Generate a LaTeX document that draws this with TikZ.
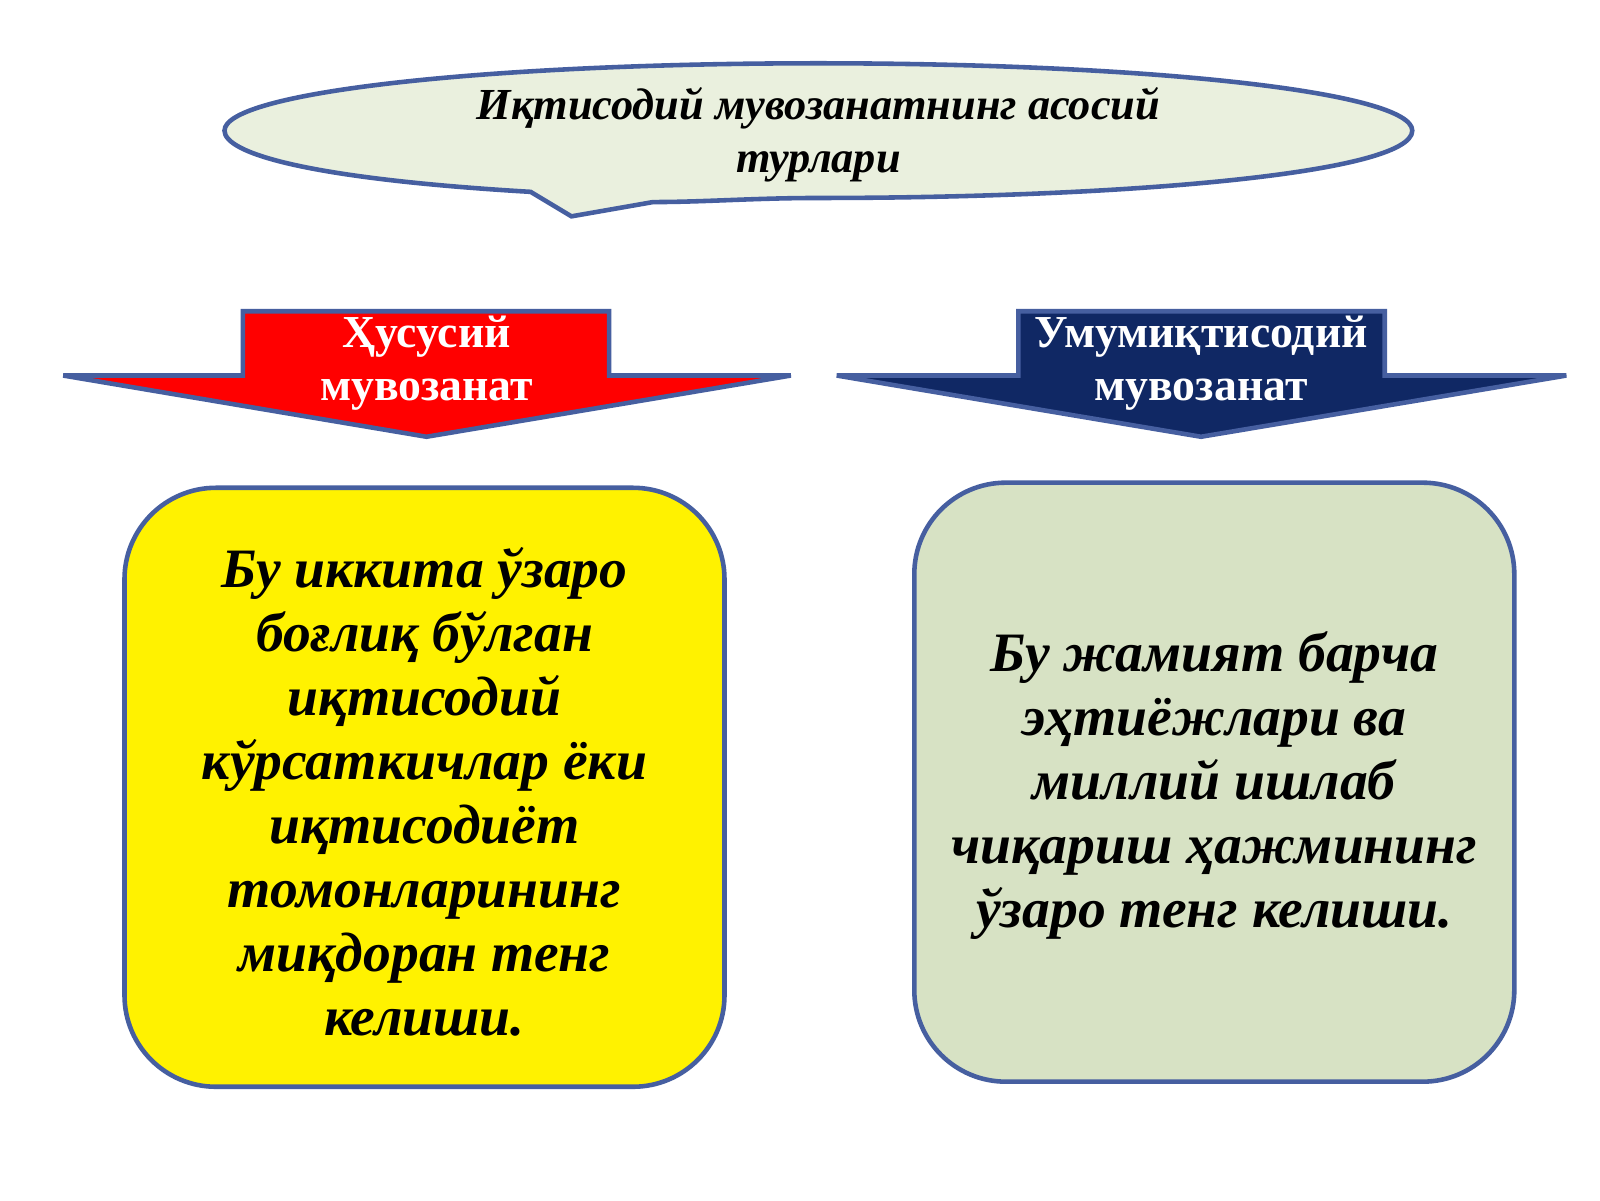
\documentclass[tikz,border=0pt]{standalone}
\usepackage{fontspec}
\setmainfont{Liberation Serif}
\begin{document}
\begin{tikzpicture}[x=0.0102cm,y=-0.0102cm,
  edge/.style={draw={rgb,255:red,70;green,95;blue,160}, line width=1.3pt},
  ttl/.style={align=center, font=\bfseries\itshape\fontsize{12.6}{15}\selectfont},
  lab/.style={align=center, text=white, font=\bfseries\fontsize{13}{15}\selectfont},
  body/.style={align=center, font=\bfseries\itshape\fontsize{15.8}{18.2}\selectfont}]
\useasboundingbox (0,0) rectangle (1568,1176);
\fill[white] (0,0) rectangle (1568,1176);
% callout
\path[edge, fill={rgb,255:red,234;green,240;blue,222}]
  (520,188) .. controls (300,175) and (220,150) .. (220,128)
  .. controls (220,90) and (480,62) .. (802,62)
  .. controls (1124,62) and (1384,90) .. (1384,128)
  .. controls (1384,170) and (1100,194) .. (802,194)
  .. controls (740,194) and (690,198) .. (640,198) -- (560,212) -- cycle;
\node[ttl] (t) at (802,132) {Иқтисодий мувозанатнинг асосий\\турлари};
% left arrow
\path[edge, fill=red] (238,305) -- (597,305) -- (597,368) -- (775,368) -- (418,428) -- (62,368) -- (238,368) -- cycle;
\node[lab] (l) at (418,356) {Ҳусусий\\мувозанат};
% right arrow
\path[edge, fill={rgb,255:red,16;green,40;blue,100}] (998,305) -- (1357,305) -- (1357,368) -- (1535,368) -- (1177,428) -- (820,368) -- (998,368) -- cycle;
\node[lab] (r) at (1177,356) {Умумиқтисодий\\мувозанат};
% boxes
\path[edge, fill=yellow, rounded corners=26pt] (122,478) rectangle (710,1065);
\node[body] (lb) at (416,776) {Бу иккита ўзаро\\боғлиқ бўлган\\иқтисодий\\кўрсаткичлар ёки\\иқтисодиёт\\томонларининг\\миқдоран тенг\\келиши.};
\path[edge, fill={rgb,255:red,215;green,226;blue,196}, rounded corners=26pt] (896,473) rectangle (1484,1060);
\node[body] (rb) at (1190,770) {Бу жамият барча\\эҳтиёжлари ва\\миллий ишлаб\\чиқариш ҳажмининг\\ўзаро тенг келиши.};
\end{tikzpicture}
\end{document}
